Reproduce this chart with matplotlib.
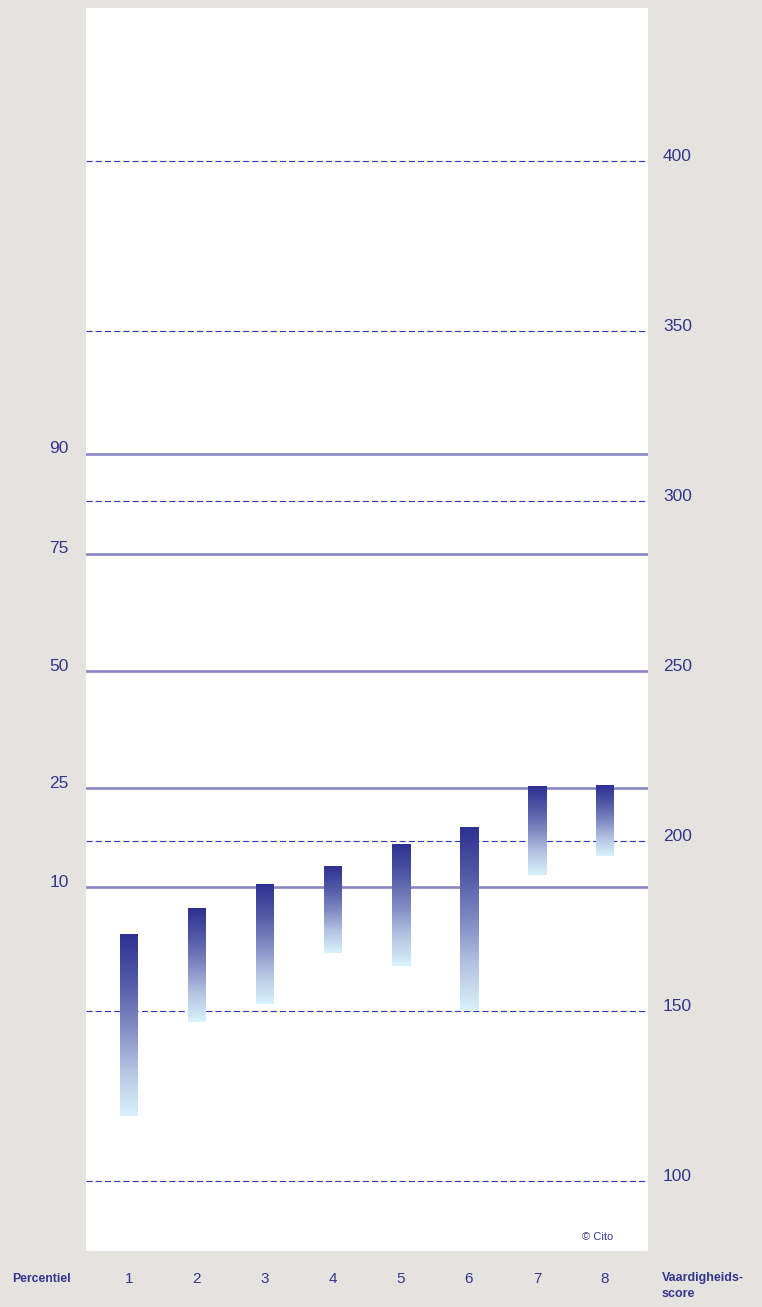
import numpy as np
import matplotlib
matplotlib.use("Agg")
import matplotlib.pyplot as plt
from matplotlib.colors import LinearSegmentedColormap

# ---- data ----
groups = ["1", "2", "3", "4", "5", "6", "7", "8"]
bar_top = [172.8, 180.4, 187.5, 192.8, 199.3, 204.0, 216.3, 216.3]
bar_bottom = [119.4, 147.0, 152.3, 167.3, 163.5, 150.0, 190.2, 195.7]
score_ticks = [100, 150, 200, 250, 300, 350, 400]
percentile_labels = ["10", "25", "50", "75", "90"]
percentile_scores = [186.5, 215.6, 250.0, 284.6, 314.0]

BG = "#e4e3df"
TXT = "#35358c"
SOLID = "#8a86c4"
DASH = "#3a3ab4"

plt.rcParams['font.family'] = ['Liberation Sans Narrow', 'Liberation Sans', 'DejaVu Sans']

W, H = 762, 1307
fig = plt.figure(figsize=(W / 100, H / 100), dpi=100, facecolor=BG)
ax_l, ax_r, ax_t, ax_b = 86, 648, 8, 1250.5
ax = fig.add_axes([ax_l / W, (H - ax_b) / H, (ax_r - ax_l) / W, (ax_b - ax_t) / H])
ax.set_facecolor("white")
for s in ax.spines.values():
    s.set_visible(False)
ax.set_xticks([])
ax.set_yticks([])

xlim = (1 - 43 / 68, 8 + 43 / 68)
ylim = (79.7, 445.1)

# dashed score lines
for v in score_ticks:
    ax.axhline(v, color=DASH, lw=0.85, linestyle=(0, (5.2, 2.6)), zorder=1)
# solid percentile lines
for v in percentile_scores:
    ax.axhline(v, color=SOLID, lw=1.9, zorder=2)

cmap = LinearSegmentedColormap.from_list(
    "grad", ["#2e3192", "#5058a6", "#8088c2", "#b4c4e2", "#d8f2fb"])
grad = np.linspace(0, 1, 256).reshape(-1, 1)
bw = 18 / 68
for i, (t, b) in enumerate(zip(bar_top, bar_bottom)):
    x = i + 1
    ax.imshow(grad, cmap=cmap, aspect="auto", origin="upper",
              extent=(x - bw / 2, x + bw / 2, b, t), zorder=3, interpolation="bilinear")
ax.set_xlim(*xlim)
ax.set_ylim(*ylim)

fs = 12.5
# right score labels
for v in score_ticks:
    ax.annotate(str(v), xy=(1, v), xycoords=("axes fraction", "data"),
                xytext=(15, 5), textcoords="offset pixels",
                ha="left", va="center", color=TXT, fontsize=fs, annotation_clip=False)
# left percentile labels
for lab, v in zip(percentile_labels, percentile_scores):
    ax.annotate(lab, xy=(0, v), xycoords=("axes fraction", "data"),
                xytext=(-17, 5), textcoords="offset pixels",
                ha="right", va="center", color=TXT, fontsize=fs, annotation_clip=False)

# bottom group labels
for i, g in enumerate(groups):
    ax.annotate(g, xy=(i + 1, 0), xycoords=("data", "axes fraction"),
                xytext=(0, -28.5), textcoords="offset pixels",
                ha="center", va="center", color=TXT, fontsize=11, annotation_clip=False)

fig.text(12 / W, 1 - 1279 / H, "Percentiel", ha="left", va="center",
         color=TXT, fontsize=8.8, fontweight="bold")
fig.text(662 / W, 1 - 1272 / H, "Vaardigheids-\nscore", ha="left", va="top",
         color=TXT, fontsize=9, fontweight="bold", linespacing=1.45)
fig.text(598 / W, 1 - 1237 / H, "© Cito", ha="center", va="center",
         color=TXT, fontsize=8)

fig.savefig("out.png", dpi=100, facecolor=BG)
